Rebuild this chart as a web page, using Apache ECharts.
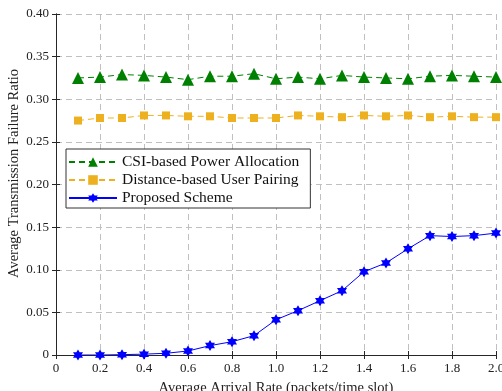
<!DOCTYPE html>
<html>
<head>
<meta charset="utf-8">
<script src="https://cdn.jsdelivr.net/npm/echarts@6/dist/echarts.min.js"></script>
<style>
  html, body { margin: 0; padding: 0; background: #fff; }
  #chart { width: 502px; height: 391px; }
</style>
</head>
<body>
<div id="chart"></div>
<script>
// arrival rates (packets/time slot)
const rates = [0.1, 0.2, 0.3, 0.4, 0.5, 0.6, 0.7, 0.8, 0.9, 1.0,
  1.1, 1.2, 1.3, 1.4, 1.5, 1.6, 1.7, 1.8, 1.9, 2.0];

const seriesNames = ['CSI-based Power Allocation', 'Distance-based User Pairing', 'Proposed Scheme'];

const csiPower = [0.325, 0.326, 0.329, 0.328, 0.326, 0.323, 0.327, 0.327, 0.330, 0.324,
  0.326, 0.324, 0.328, 0.326, 0.325, 0.324, 0.327, 0.328, 0.327, 0.326];

const distPairing = [0.275, 0.278, 0.278, 0.281, 0.281, 0.280, 0.280, 0.278, 0.278, 0.278,
  0.281, 0.280, 0.279, 0.281, 0.280, 0.281, 0.279, 0.280, 0.279, 0.279];

const proposed = [0.000, 0.000, 0.0004, 0.001, 0.002, 0.0047, 0.011, 0.0156, 0.0227, 0.0414,
  0.052, 0.0637, 0.0754, 0.0977, 0.108, 0.1246, 0.140, 0.139, 0.140, 0.143];

const colors = ['#008000', '#EDB120', '#0000FF'];

// 六角星
const hexagram = 'path://M0,-10L8.66,5L-8.66,5Z M0,10L-8.66,-5L8.66,-5Z';

const font = 'Liberation Serif';

function pairs(vals) {
  return rates.map((r, i) => [r, vals[i]]);
}

const chart = echarts.init(document.getElementById('chart'));

const axisLine = { show: true, lineStyle: { color: '#262626', width: 1 } };
const tick = { show: true, inside: true, length: 4, lineStyle: { color: '#262626' } };
const split = { show: true, lineStyle: { color: '#c0c0c0', type: [6, 4], width: 1 } };

const option = {
  backgroundColor: '#fff',
  animation: false,
  grid: { left: 56, right: 6, top: 14, bottom: 36, outerBoundsMode: 'none' },
  legend: {
    orient: 'vertical',
    left: 66,
    top: 149,
    itemWidth: 48,
    itemHeight: 12,
    itemGap: 2,
    padding: [5, 11, 2, 2],
    borderColor: '#333',
    borderWidth: 1,
    backgroundColor: '#fff',
    textStyle: { fontFamily: font, fontSize: 15.5, color: '#111' },
    data: seriesNames,
  },
  xAxis: [
    {
      type: 'value',
      min: 0,
      max: 2,
      interval: 0.2,
      name: 'Average Arrival Rate (packets/time slot)',
      nameLocation: 'middle',
      nameMoveOverlap: false,
      nameGap: 26,
      nameTextStyle: { fontFamily: font, fontSize: 14.5, color: '#222' },
      axisLine: axisLine,
      axisTick: tick,
      splitLine: split,
      axisLabel: {
        fontFamily: font,
        fontSize: 13,
        color: '#222',
        margin: 7,
        formatter: (v) => (v === 0 ? '0' : v.toFixed(1)),
      },
    },
    {
      type: 'value',
      position: 'top',
      min: 0,
      max: 2,
      interval: 0.2,
      axisLine: axisLine,
      axisTick: tick,
      splitLine: { show: false },
      axisLabel: { show: false },
    },
  ],
  yAxis: [
    {
      type: 'value',
      min: 0,
      max: 0.4,
      interval: 0.05,
      name: 'Average Transmission Failure Ratio',
      nameLocation: 'middle',
      nameMoveOverlap: false,
      nameGap: 34,
      // 名称略微上移
      nameTextStyle: { fontFamily: font, fontSize: 14.5, color: '#222', padding: [0, 0, 0, 22] },
      axisLine: axisLine,
      axisTick: tick,
      splitLine: split,
      axisLabel: {
        fontFamily: font,
        fontSize: 13,
        color: '#222',
        margin: 7,
        formatter: (v) => (v === 0 ? '0' : v.toFixed(2)),
      },
    },
    {
      type: 'value',
      position: 'right',
      min: 0,
      max: 0.4,
      interval: 0.05,
      axisLine: axisLine,
      axisTick: tick,
      splitLine: { show: false },
      axisLabel: { show: false },
    },
  ],
  series: [
    {
      name: seriesNames[0],
      type: 'line',
      data: pairs(csiPower),
      symbol: 'triangle',
      symbolSize: 12,
      color: colors[0],
      lineStyle: { color: colors[0], width: 1, type: [6, 4] },
      itemStyle: { color: colors[0] },
      z: 3,
    },
    {
      name: seriesNames[1],
      type: 'line',
      data: pairs(distPairing),
      symbol: 'rect',
      symbolSize: 8,
      color: colors[1],
      lineStyle: { color: colors[1], width: 1, type: [6, 4] },
      itemStyle: { color: colors[1] },
      z: 3,
    },
    {
      name: seriesNames[2],
      type: 'line',
      data: pairs(proposed),
      symbol: hexagram,
      symbolSize: [10, 11],
      color: colors[2],
      lineStyle: { color: colors[2], width: 1 },
      itemStyle: { color: colors[2] },
      z: 3,
    },
  ],
};

chart.setOption(option);
</script>
</body>
</html>
